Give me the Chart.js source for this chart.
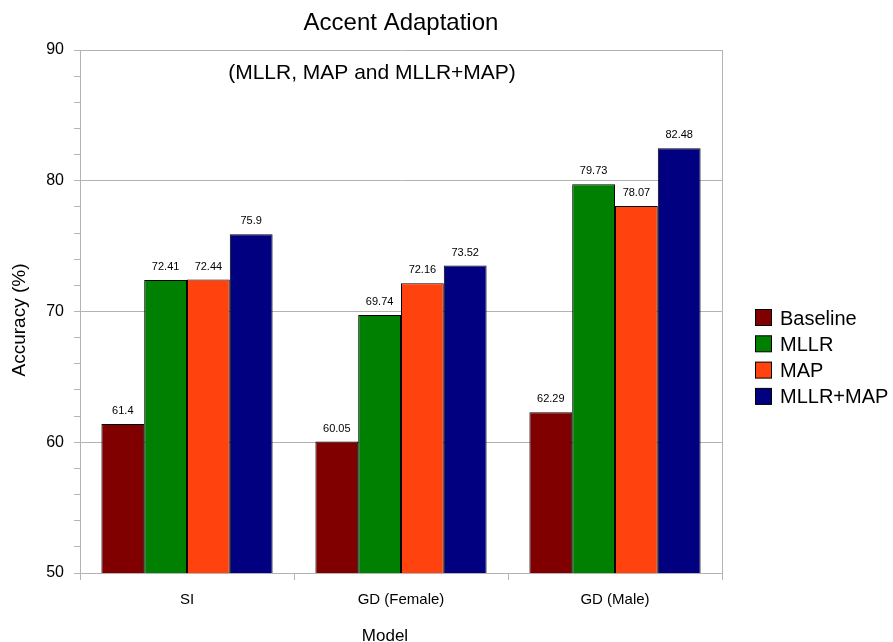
<!DOCTYPE html>
<html>
<head>
<meta charset="utf-8">
<script src="https://cdn.jsdelivr.net/npm/chart.js@4/dist/chart.umd.min.js"></script>
<style>
  html, body { margin: 0; padding: 0; background: #fff; }
  #wrap { width: 893px; height: 642px; }
</style>
</head>
<body>
<div id="wrap"><canvas id="c" width="893" height="642"></canvas></div>
<script>
// Accuracy per model type for each adaptation method
const categories = ['SI', 'GD (Female)', 'GD (Male)'];
const baseline = [61.4, 60.05, 62.29];
const mllr = [72.41, 69.74, 79.73];
const map = [72.44, 72.16, 78.07];
const mllrMap = [75.9, 73.52, 82.48];
const seriesNames = ['Baseline', 'MLLR', 'MAP', 'MLLR+MAP'];
const seriesColors = ['#800000', '#008000', '#ff420e', '#000080'];

const FONT = '"Liberation Sans", Arial, sans-serif';
const GRID = '#b3b3b3';

// Right-hand frame line of the plot area
const frame = {
  id: 'frame',
  beforeDatasetsDraw(chart) {
    const { ctx, chartArea: a } = chart;
    ctx.save();
    ctx.strokeStyle = GRID;
    ctx.lineWidth = 1;
    ctx.beginPath();
    ctx.moveTo(Math.round(a.right) + 0.5, a.top);
    ctx.lineTo(Math.round(a.right) + 0.5, a.bottom);
    ctx.stroke();
    ctx.restore();
  }
};

// Titles, axis names, legend and value labels
const decorations = {
  id: 'decorations',
  afterDatasetsDraw(chart) {
    const ctx = chart.ctx;
    ctx.save();
    ctx.fillStyle = '#000';
    ctx.textAlign = 'center';
    ctx.textBaseline = 'middle';

    // value labels above bars
    ctx.font = '11px ' + FONT;
    chart.data.datasets.forEach((ds, i) => {
      const meta = chart.getDatasetMeta(i);
      meta.data.forEach((bar, j) => {
        ctx.fillText(String(ds.data[j]), bar.x, bar.y - 13);
      });
    });

    // main title and subtitle
    ctx.font = '24px ' + FONT;
    ctx.fillText('Accent Adaptation', 401, 23);
    ctx.font = '21px ' + FONT;
    ctx.fillText('(MLLR, MAP and MLLR+MAP)', 372, 73);

    // axis titles
    ctx.font = '17px ' + FONT;
    ctx.fillText('Model', 385, 636);
    ctx.save();
    ctx.translate(20, 320);
    ctx.rotate(-Math.PI / 2);
    ctx.font = '19px ' + FONT;
    ctx.fillText('Accuracy (%)', 0, 0);
    ctx.restore();

    // legend
    ctx.font = '20px ' + FONT;
    ctx.textAlign = 'left';
    chart.data.datasets.forEach((ds, i) => {
      const y = 318 + i * 26.3;
      ctx.fillStyle = ds.backgroundColor;
      ctx.fillRect(755.5, y - 8.5, 16, 16);
      ctx.strokeStyle = '#000';
      ctx.lineWidth = 1;
      ctx.strokeRect(755.5, y - 8.5, 16, 16);
      ctx.fillStyle = '#000';
      ctx.fillText(ds.label, 780, y + 1);
    });
    ctx.restore();
  }
};

const datasets = [baseline, mllr, map, mllrMap].map((vals, i) => ({
  label: seriesNames[i],
  data: vals,
  backgroundColor: seriesColors[i],
  borderColor: '#000',
  borderWidth: 1,
  categoryPercentage: 0.8,
  barPercentage: 1.0
}));

new Chart(document.getElementById('c'), {
  type: 'bar',
  data: { labels: categories, datasets },
  options: {
    responsive: false,
    animation: false,
    devicePixelRatio: 1,
    layout: { padding: { left: 0, top: 50, right: 171, bottom: 0 } },
    plugins: {
      legend: { display: false },
      title: { display: false },
      tooltip: { enabled: false }
    },
    scales: {
      x: {
        offset: true,
        afterFit: (s) => { s.height = 69; },
        grid: {
          offset: true,
          drawOnChartArea: false,
          tickLength: 7,
          tickColor: GRID,
          color: GRID
        },
        border: { color: GRID, width: 1 },
        ticks: {
          color: '#000',
          font: { family: FONT, size: 15 },
          padding: 11
        }
      },
      y: {
        min: 50,
        max: 90,
        afterFit: (s) => { s.width = 80; },
        grid: {
          color: (c) => (c.tick && c.tick.value % 10 === 0) ? GRID : 'rgba(0,0,0,0)',
          tickColor: GRID,
          tickLength: 6
        },
        border: { color: GRID, width: 1 },
        ticks: {
          stepSize: 2,
          autoSkip: false,
          color: '#000',
          padding: 10,
          font: { family: FONT, size: 16 },
          callback: (v) => (v % 10 === 0 ? String(v) : '')
        }
      }
    }
  },
  plugins: [frame, decorations]
});
</script>
</body>
</html>
